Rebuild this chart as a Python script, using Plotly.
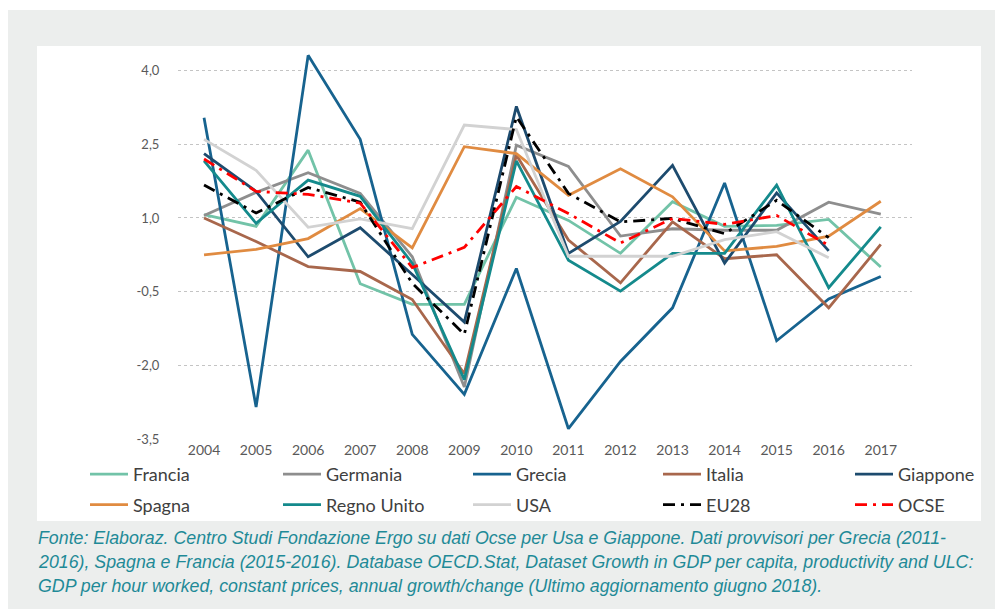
import plotly.graph_objects as go

years = list(range(2004, 2018))

francia = [1.07, 0.83, 2.38, -0.34, -0.76, -0.76, 1.42, 0.95, 0.28, 1.33, 0.83, 0.85, 0.97, 0.00]
germania = [1.05, 1.52, 1.92, 1.50, 0.21, -2.44, 2.48, 2.05, 0.63, 0.78, 0.75, 0.75, 1.32, 1.08]
grecia = [3.04, -2.85, 4.31, 2.60, -1.37, -2.59, -0.03, -3.29, -1.92, -0.83, 1.71, -1.50, -0.65, -0.19]
italia = [1.00, 0.52, 0.01, -0.09, -0.66, -2.17, 2.28, 0.55, -0.32, 0.92, 0.17, 0.25, -0.83, 0.46]
giappone = [2.31, 1.54, 0.21, 0.80, -0.15, -1.12, 3.27, 0.28, 0.93, 2.07, 0.08, 1.51, 0.33, None]
spagna = [0.25, 0.36, 0.58, 1.19, 0.39, 2.45, 2.31, 1.46, 2.00, 1.43, 0.33, 0.42, 0.63, 1.34]
regno_unito = [2.16, 0.89, 1.77, 1.44, 0.08, -2.29, 2.16, 0.14, -0.49, 0.28, 0.28, 1.67, -0.42, 0.82]
usa = [2.60, 1.97, 0.81, 0.98, 0.78, 2.89, 2.80, 0.22, 0.22, 0.22, 0.56, 0.72, 0.19, None]
eu28 = [1.67, 1.10, 1.62, 1.32, -0.33, -1.37, 3.06, 1.50, 0.92, 0.99, 0.68, 1.36, 0.60, None]
ocse = [2.20, 1.54, 1.48, 1.30, -0.01, 0.40, 1.64, 1.09, 0.49, 0.99, 0.87, 1.05, 0.44, None]

ytick_vals = [-3.5, -2.0, -0.5, 1.0, 2.5, 4.0]
ytick_text = ["-3,5", "-2,0", "-0,5", "1,0", "2,5", "4,0"]

caption_lines = [
    "Fonte: Elaboraz. Centro Studi Fondazione Ergo su dati Ocse per Usa e Giappone. Dati provvisori per Grecia (2011-",
    "2016), Spagna e Francia (2015-2016). Database OECD.Stat, Dataset Growth in GDP per capita, productivity and ULC:",
    "GDP per hour worked, constant prices, annual growth/change (Ultimo aggiornamento giugno 2018).",
]

# name, values, colour, dash, legend column
series = [
    ("Francia", francia, "#72c3a8", "solid", "legend"),
    ("Germania", germania, "#8e8e8e", "solid", "legend2"),
    ("Grecia", grecia, "#17638f", "solid", "legend3"),
    ("Italia", italia, "#a8674c", "solid", "legend4"),
    ("Giappone", giappone, "#1d4b6e", "solid", "legend5"),
    ("Spagna", spagna, "#e08b41", "solid", "legend"),
    ("Regno Unito", regno_unito, "#148a8c", "solid", "legend2"),
    ("USA", usa, "#d2d2d2", "solid", "legend3"),
    ("EU28", eu28, "#000000", "12px,6px,3px,6px", "legend4"),
    ("OCSE", ocse, "#ff0000", "12px,6px,3px,6px", "legend5"),
]

fig = go.Figure()
for name, vals, color, dash, leg in series:
    fig.add_trace(go.Scatter(
        x=years, y=vals, name=name, mode="lines",
        line=dict(color=color, width=2.8, dash=dash),
        legend=leg, legendgroup=name,
    ))

OFF = 8  # page body margin
W, H = 1003 - OFF, 609 - OFF
L, R, T, B = 178, 912, 46, 440  # plot area in screen pixels


def px(x):
    return (x - L) / (R - L)


def py(y):
    return (B - y) / (B - T)


shapes = [
    dict(type="rect", xref="paper", yref="paper", x0=px(7), x1=px(999), y0=py(615), y1=py(10),
         fillcolor="#eceeed", line=dict(width=0), layer="below"),
    dict(type="rect", xref="paper", yref="paper", x0=px(37), x1=px(981), y0=py(521), y1=py(46),
         fillcolor="#ffffff", line=dict(width=0), layer="below"),
]

annotations = []
for i, t in enumerate(caption_lines):
    annotations.append(dict(
        xref="paper", yref="paper", x=px(36), y=py(538 + 24 * i), xanchor="left", yanchor="middle",
        text="<i>" + t + "</i>", showarrow=False,
        font=dict(family="Liberation Sans, Arial", size=17.8, color="#1f8a97"),
    ))

legend_font = dict(family="Lato, Open Sans, sans-serif", size=18, color="#404040")
legend_cols = [85, 278, 468, 658, 850]
legend_keys = ["legend", "legend2", "legend3", "legend4", "legend5"]
legend_layout = {}
for key, lx in zip(legend_keys, legend_cols):
    legend_layout[key] = dict(
        orientation="v", x=px(lx), y=py(456), xanchor="left", yanchor="top",
        font=legend_font, bgcolor="rgba(0,0,0,0)", traceorder="grouped",
        tracegroupgap=4, itemwidth=38,
    )

fig.update_layout(
    width=W, height=H,
    margin=dict(l=L - OFF, r=1003 - R, t=T - OFF, b=609 - B),
    paper_bgcolor="#ffffff", plot_bgcolor="rgba(0,0,0,0)",
    shapes=shapes, annotations=annotations,
    showlegend=True,
    xaxis=dict(
        range=[2003.5, 2017.6], tickvals=years, ticktext=[str(y) for y in years],
        showgrid=False, zeroline=False, showline=False,
        tickfont=dict(family="Lato, Open Sans, sans-serif", size=14, color="#595959"),
        ticks="",
    ),
    yaxis=dict(
        range=[-3.52, 4.5], tickvals=ytick_vals, ticktext=ytick_text,
        showgrid=True, gridcolor="#c4c4c4", griddash="dot", gridwidth=1,
        zeroline=False, showline=False,
        tickfont=dict(family="Lato, Open Sans, sans-serif", size=13, color="#595959"),
        ticks="outside", ticklen=15, tickcolor="rgba(0,0,0,0)",
    ),
    **legend_layout,
)

fig.write_html("out.html")
